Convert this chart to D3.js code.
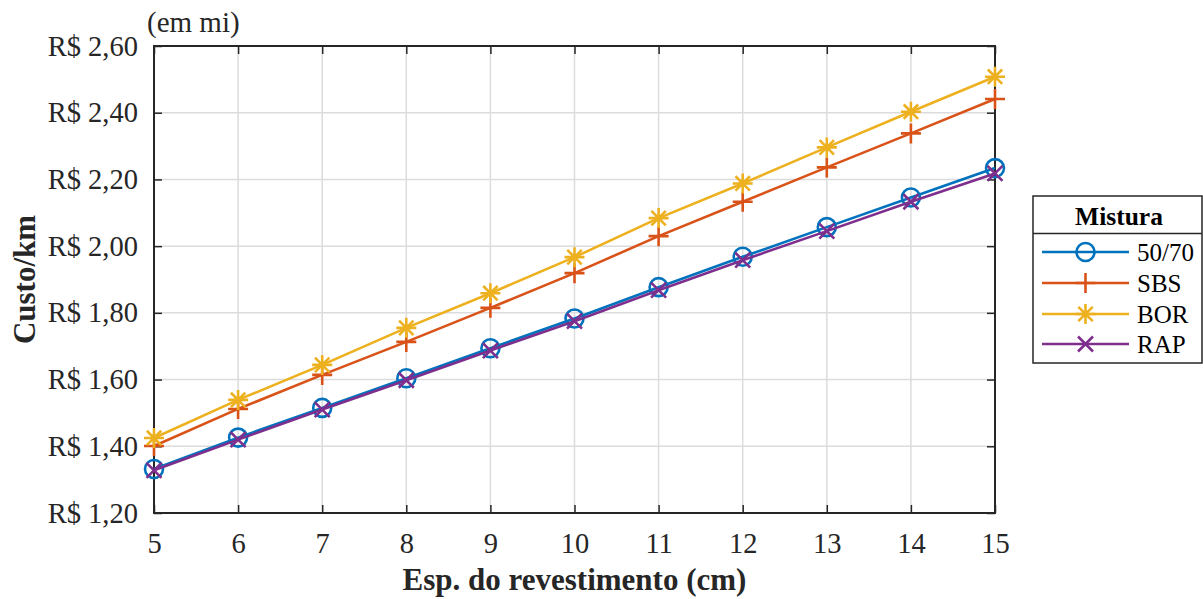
<!DOCTYPE html>
<html>
<head>
<meta charset="utf-8">
<script src="https://cdn.jsdelivr.net/npm/d3@7"></script>
<style>
  html, body { margin: 0; padding: 0; background: #fff; }
  svg { display: block; }
</style>
</head>
<body>
<svg id="chart" width="1203" height="599"></svg>
<script>
// Espessura do revestimento (cm)
const espessura = [5, 6, 7, 8, 9, 10, 11, 12, 13, 14, 15];
// Custo por km (R$, em milhões) por mistura
const custo5070 = [1.332, 1.426, 1.515, 1.604, 1.694, 1.783, 1.877, 1.968, 2.057, 2.146, 2.234];
const custoSBS  = [1.401, 1.512, 1.614, 1.713, 1.815, 1.919, 2.030, 2.133, 2.236, 2.338, 2.441];
const custoBOR  = [1.425, 1.539, 1.644, 1.755, 1.859, 1.967, 2.084, 2.188, 2.296, 2.403, 2.508];
const custoRAP  = [1.328, 1.420, 1.510, 1.598, 1.687, 1.775, 1.868, 1.958, 2.045, 2.133, 2.218];
const misturas = ["50/70", "SBS", "BOR", "RAP"];
const yTicks = [1.2, 1.4, 1.6, 1.8, 2.0, 2.2, 2.4, 2.6];

const series = [
  { name: misturas[0], values: custo5070, color: "#0072BD", marker: "circle" },
  { name: misturas[1], values: custoSBS,  color: "#D95319", marker: "plus" },
  { name: misturas[2], values: custoBOR,  color: "#EDB120", marker: "star" },
  { name: misturas[3], values: custoRAP,  color: "#7E2F8E", marker: "cross" }
];

const svg = d3.select("#chart");
const font = "'Liberation Serif', 'Times New Roman', Tinos, serif";
const plotL = 154, plotR = 995, plotT = 46, plotB = 513;

const x = d3.scaleLinear().domain([5, 15]).range([plotL, plotR]);
const y = d3.scaleLinear().domain([1.2, 2.6]).range([plotB, plotT]);

const fmt = v => "R$ " + v.toFixed(2).replace(".", ",");

// grid
const grid = svg.append("g");
grid.selectAll("line.gx").data(espessura).join("line")
  .attr("x1", d => x(d)).attr("x2", d => x(d)).attr("y1", plotT).attr("y2", plotB)
  .attr("stroke", "#dcdcdc").attr("stroke-width", 1.5);
grid.selectAll("line.gy").data(yTicks).join("line")
  .attr("x1", plotL).attr("x2", plotR).attr("y1", d => y(d)).attr("y2", d => y(d))
  .attr("stroke", "#dcdcdc").attr("stroke-width", 1.5);

// axes (ticks pointing inward, box on all sides)
const axisColor = "#262626";
function styleAxis(g) {
  g.attr("font-family", null).attr("font-size", null);
  g.select(".domain").remove();
  g.selectAll(".tick line").attr("stroke", axisColor).attr("stroke-width", 1.5);
  g.selectAll(".tick text").attr("fill", axisColor).style("font-family", font).style("font-size", "28.5px");
}
svg.append("g").attr("transform", `translate(0,${plotB})`)
  .call(d3.axisBottom(x).tickValues(espessura).tickFormat(d3.format("d")).tickSizeInner(-8).tickPadding(20))
  .call(styleAxis);
svg.append("g").attr("transform", `translate(0,${plotT})`)
  .call(d3.axisTop(x).tickValues(espessura).tickFormat("").tickSizeInner(-8))
  .call(styleAxis);
svg.append("g").attr("transform", `translate(${plotL},0)`)
  .call(d3.axisLeft(y).tickValues(yTicks).tickFormat(fmt).tickSizeInner(-8).tickPadding(16))
  .call(styleAxis);
svg.append("g").attr("transform", `translate(${plotR},0)`)
  .call(d3.axisRight(y).tickValues(yTicks).tickFormat("").tickSizeInner(-8))
  .call(styleAxis);
svg.append("rect").attr("x", plotL).attr("y", plotT).attr("width", plotR - plotL).attr("height", plotB - plotT)
  .attr("fill", "none").attr("stroke", axisColor).attr("stroke-width", 2);

// marker drawing
function drawMarker(g, type, color, cx, cy) {
  const m = g.append("g").attr("transform", `translate(${cx},${cy})`)
    .attr("stroke", color).attr("fill", "none").attr("stroke-width", 2.6);
  if (type === "circle") {
    m.append("circle").attr("r", 9);
  } else if (type === "plus") {
    m.append("path").attr("d", "M-10,0H10M0,-10V10");
  } else if (type === "star") {
    const r = 10, d = r * 0.72;
    m.append("path").attr("d", `M-${r},0H${r}M0,-${r}V${r}M-${d},-${d}L${d},${d}M-${d},${d}L${d},-${d}`);
  } else if (type === "cross") {
    const d = 7.5;
    m.append("path").attr("d", `M-${d},-${d}L${d},${d}M-${d},${d}L${d},-${d}`);
  }
}

// lines and markers
const line = d3.line().x((d, i) => x(espessura[i])).y(d => y(d));
series.forEach(s => {
  const g = svg.append("g");
  g.append("path").datum(s.values).attr("d", line)
    .attr("fill", "none").attr("stroke", s.color).attr("stroke-width", 2.6);
  s.values.forEach((v, i) => drawMarker(g, s.marker, s.color, x(espessura[i]), y(v)));
});

// axis titles
svg.append("text").attr("x", (plotL + plotR) / 2).attr("y", 590)
  .attr("text-anchor", "middle").style("font-family", font).style("font-size", "31px")
  .style("font-weight", "bold").attr("fill", axisColor).text("Esp. do revestimento (cm)");
svg.append("text").attr("transform", `translate(35,${(plotT + plotB) / 2}) rotate(-90)`)
  .attr("text-anchor", "middle").style("font-family", font).style("font-size", "31px")
  .style("font-weight", "bold").attr("fill", axisColor).text("Custo/km");
svg.append("text").attr("x", 147).attr("y", 32)
  .style("font-family", font).style("font-size", "29px").attr("fill", axisColor).text("(em mi)");

// legend
const lg = svg.append("g");
const lx = 1033, ly = 196, lw = 169, lh = 167;
lg.append("rect").attr("x", lx).attr("y", ly).attr("width", lw).attr("height", lh)
  .attr("fill", "#fff").attr("stroke", axisColor).attr("stroke-width", 1.5);
lg.append("line").attr("x1", lx).attr("x2", lx + lw).attr("y1", 233.5).attr("y2", 233.5)
  .attr("stroke", axisColor).attr("stroke-width", 1.5);
lg.append("text").attr("x", 1119).attr("y", 225).attr("text-anchor", "middle")
  .style("font-family", font).style("font-size", "25.5px").style("font-weight", "bold")
  .attr("fill", "#000").text("Mistura");
const entryY = [252, 283, 314, 344];
series.forEach((s, i) => {
  lg.append("line").attr("x1", 1042).attr("x2", 1129).attr("y1", entryY[i]).attr("y2", entryY[i])
    .attr("stroke", s.color).attr("stroke-width", 2.6);
  drawMarker(lg, s.marker, s.color, 1085.5, entryY[i]);
  lg.append("text").attr("x", 1137).attr("y", entryY[i] + 9)
    .style("font-family", font).style("font-size", "25px").attr("fill", "#000").text(s.name);
});
</script>
</body>
</html>
